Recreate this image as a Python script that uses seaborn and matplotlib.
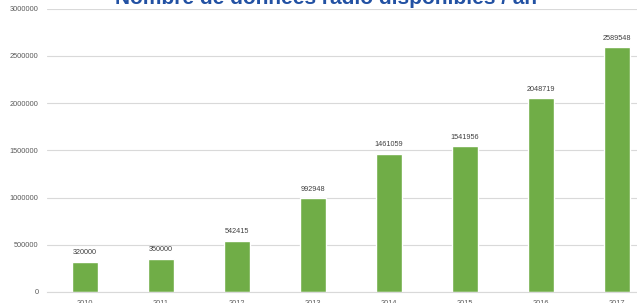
"""Bar chart of yearly available radio data counts."""

import matplotlib

matplotlib.use("Agg")

import matplotlib.pyplot as plt
import pandas as pd
import seaborn as sns
from matplotlib.ticker import FuncFormatter, MultipleLocator

years = ["2010", "2011", "2012", "2013", "2014", "2015", "2016", "2017"]
counts = [320000, 350000, 542415, 992948, 1461059, 1541956, 2048719, 2589548]
title = "Nombre de données radio disponibles / an"

GREEN = "#70AD47"
GRID = "#D9D9D9"
TICK = "#595959"


def main() -> None:
    data = pd.DataFrame({"year": years, "count": counts})

    sns.set_theme(style="white")
    plt.rcParams["font.family"] = ["Liberation Sans", "DejaVu Sans"]

    fig = plt.figure(figsize=(6.37, 3.03), dpi=100)
    # axes run past the right edge, as in the cropped original
    ax = fig.add_axes([47 / 637, 11 / 303, 608 / 637, 283.5 / 303])

    sns.barplot(data=data, x="year", y="count", color=GREEN, width=0.33,
                saturation=1, ax=ax)
    ax.bar_label(ax.containers[0], labels=[str(v) for v in counts],
                 padding=4, fontsize=5.2, color="#404040")

    ax.set_ylim(0, 3000000)
    ax.yaxis.set_major_locator(MultipleLocator(500000))
    ax.yaxis.set_major_formatter(FuncFormatter(lambda v, _: f"{int(v)}"))
    ax.set_xlim(-0.5, len(years) - 0.5)
    ax.grid(axis="y", color=GRID, linewidth=0.8)
    ax.set_axisbelow(True)
    for side in ["left", "right", "top"]:
        ax.spines[side].set_visible(False)
    ax.spines["bottom"].set_color(GRID)
    ax.spines["bottom"].set_linewidth(0.8)
    ax.tick_params(axis="both", length=0, labelsize=5.3, colors=TICK)
    ax.tick_params(axis="y", pad=6)
    ax.tick_params(axis="x", pad=6)
    ax.set_xlabel("")
    ax.set_ylabel("")

    # title sits mostly above the top edge, as in the cropped original
    fig.text(326 / 637, 298.5 / 303, title, ha="center", va="baseline",
             fontsize=15, fontweight="bold", color="#2251A3")

    fig.savefig("out.png", dpi=100)
    plt.close(fig)


if __name__ == "__main__":
    main()
